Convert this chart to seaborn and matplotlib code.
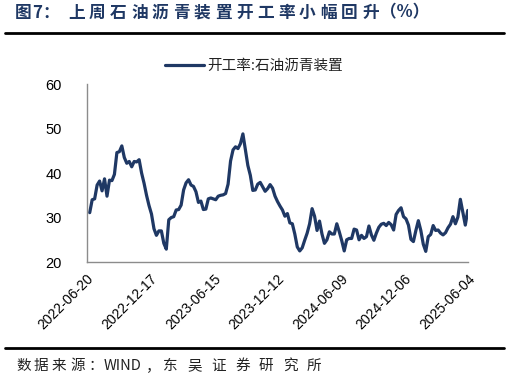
import matplotlib
matplotlib.use("Agg")
import matplotlib.pyplot as plt
import seaborn as sns
import pandas as pd
import numpy as np

title = "图7：上周石油沥青装置开工率小幅回升（%）"
source = "数据来源：WIND，东吴证券研究所"
series_name = "开工率:石油沥青装置"

start_date = "2022-06-29"
values = [
    31.1, 34.0, 34.2, 37.3, 38.2, 36.0, 38.7, 34.8, 38.4, 38.3,
    39.7, 44.6, 44.8, 46.1, 43.5, 42.2, 42.6, 41.4, 42.6, 42.5,
    43.0, 40.0, 37.7, 35.0, 32.7, 30.8, 27.5, 26.0, 27.0, 27.0,
    24.2, 22.9, 29.5, 30.0, 30.2, 31.7, 31.8, 32.8, 36.2, 37.8,
    38.5, 37.3, 37.0, 35.8, 33.4, 33.7, 31.8, 31.9, 34.2, 34.4,
    34.2, 34.0, 34.8, 35.0, 35.1, 35.4, 37.5, 42.7, 45.2, 45.9,
    45.5, 46.6, 48.8, 45.3, 41.7, 39.5, 36.1, 36.2, 37.5, 37.9,
    36.9, 35.9, 36.5, 37.4, 36.6, 34.8, 33.6, 32.6, 31.7, 30.3,
    30.9, 28.8, 28.6, 26.3, 23.4, 22.5, 23.2, 24.9, 26.5, 28.6,
    32.0, 30.3, 27.1, 29.2, 26.3, 24.2, 25.0, 26.8, 26.3, 26.3,
    28.6, 26.8, 24.8, 22.5, 25.0, 25.3, 25.3, 27.4, 27.2, 25.0,
    26.0, 25.3, 25.7, 28.1, 26.1, 24.9, 26.5, 27.8, 28.5, 28.7,
    28.2, 28.9, 28.4, 27.2, 30.7, 31.6, 32.2, 30.2, 29.7, 28.3,
    25.1, 24.6, 27.1, 29.3, 27.1, 24.0, 22.4, 25.7, 26.2, 28.2,
    27.1, 27.2, 26.5, 26.1, 26.6, 27.7, 28.5, 30.2, 28.6, 30.1,
    34.1, 31.2, 28.3, 31.6,
]
tick_dates = ["2022-06-20", "2022-12-17", "2023-06-15", "2023-12-12",
              "2024-06-09", "2024-12-06", "2025-06-04"]
y_ticks = [20, 30, 40, 50, 60]

dates = pd.date_range(start_date, periods=len(values), freq="7D")
df = pd.DataFrame({"date": dates, "value": values, "series": series_name})

sns.set_theme(style="white")
cjk = ["Noto Sans CJK SC", "DejaVu Sans"]
plt.rcParams["font.family"] = cjk

W, H = 509, 382
fig = plt.figure(figsize=(W / 100, H / 100), dpi=100)
ax = fig.add_axes([0.170, 0.314, 0.749, 0.466])

line_color = "#1f3864"
sns.lineplot(data=df, x="date", y="value", hue="series", palette=[line_color],
             linewidth=2.3, ax=ax, legend=True)

ax.set_xlim(pd.Timestamp(tick_dates[0]), pd.Timestamp(tick_dates[-1]))
ax.set_ylim(20, 60)
ax.set_yticks(y_ticks)
ax.set_xticks([pd.Timestamp(d) for d in tick_dates])
ax.set_xticklabels(tick_dates, rotation=45, ha="right", rotation_mode="anchor",
                   fontsize=10, family=["Liberation Sans", "DejaVu Sans"])
ax.set_yticklabels([str(v) for v in y_ticks], fontsize=10.5,
                   family=["Liberation Sans", "DejaVu Sans"])
ax.set_xlabel("")
ax.set_ylabel("")
for s in ["top", "right"]:
    ax.spines[s].set_visible(False)
for s in ["left", "bottom"]:
    ax.spines[s].set_color("#8c8c8c")
    ax.spines[s].set_linewidth(1.0)
ax.tick_params(axis="both", which="major", direction="out", length=4, width=1,
               color="#555555", labelcolor="black")
ax.tick_params(axis="x", pad=3)
ax.tick_params(axis="y", pad=14)

handles, labels = ax.get_legend_handles_labels()
ax.get_legend().remove()
fig.legend(handles, labels, loc="center", bbox_to_anchor=(254 / W, 1 - 66 / H),
           frameon=False, prop={"family": cjk, "size": 10.5},
           handlelength=2.7, handletextpad=0.25, labelcolor="#222222")


def place_segments(segments, yc, size, weight="normal", color="black"):
    """segments: list of (text, x_start_px, step_px). step None -> draw as one string."""
    for text, x0, step in segments:
        if step is None:
            fig.text(x0 / W, 1 - yc / H, text, fontsize=size, fontweight=weight,
                     color=color, va="center", ha="left", family=cjk)
        else:
            for k, ch in enumerate(text):
                fig.text((x0 + k * step) / W, 1 - yc / H, ch, fontsize=size,
                         fontweight=weight, color=color, va="center", ha="left",
                         family=cjk)


# title: 图7：上周石油沥青装置开工率小幅回升（%）
place_segments([(title[0], 15, None), (title[1], 32.5, None), (title[2], 42, None),
                (title[3:18], 68, 21.0),
                (title[18:], 380, None)],
               12.7, 12, weight="bold", color="#1f3864")

fig.add_artist(plt.Line2D([5 / W, 504 / W], [1 - 33 / H, 1 - 33 / H],
                          color="black", linewidth=2.0))
fig.add_artist(plt.Line2D([5 / W, 504 / W], [1 - 348 / H, 1 - 348 / H],
                          color="black", linewidth=2.0))

# source: 数据来源：WIND，东吴证券研究所
place_segments([(source[0:5], 16, 18.0), (source[5:9], 104, None),
                (source[9], 146, None), (source[10:], 163, 24.0)],
               366, 10.5, color="#222222")

fig.savefig("out.png", dpi=100)
